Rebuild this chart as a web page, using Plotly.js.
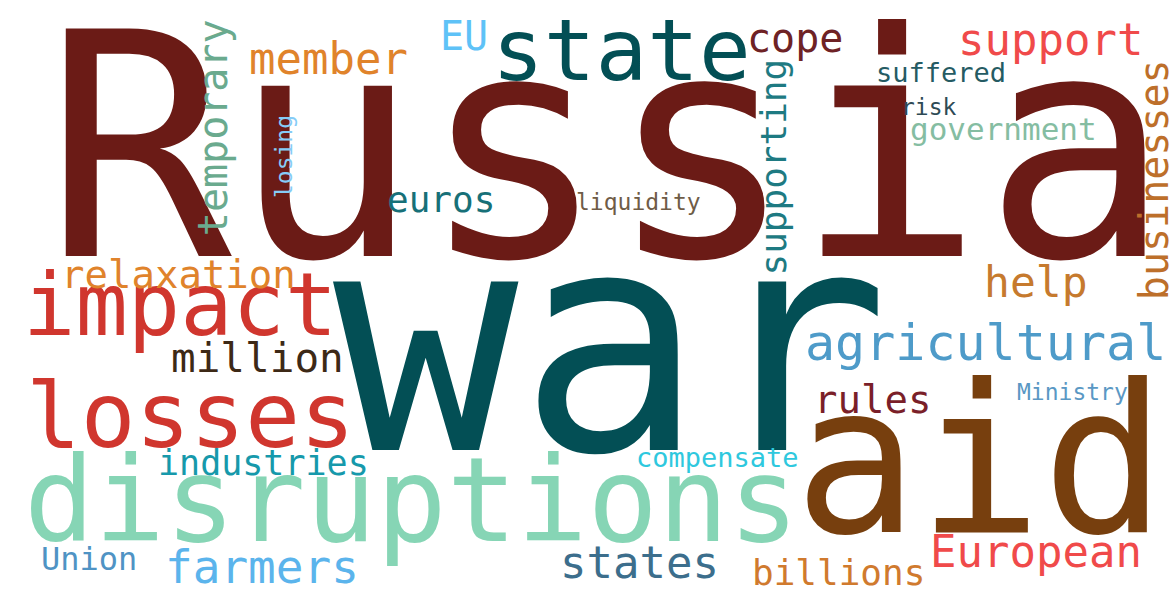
<!DOCTYPE html>
<html>
<head>
<meta charset="utf-8">
<script src="https://cdn.plot.ly/plotly-3.0.1.min.js"></script>
<style>html,body{margin:0;padding:0;background:#fff;}#chart{width:1171px;height:596px;}</style>
</head>
<body>
<div id="chart"></div>
<script>
// ---- data: the words of the cloud ----
const words = ["Russia","war","aid","disruptions","losses","impact","state","agricultural",
  "support","cope","EU","member","temporary","losing","relaxation","help","businesses",
  "supporting","suffered","risk","government","euros","liquidity","million","industries",
  "compensate","rules","Ministry","European","billions","states","farmers","Union"];

// ---- layout of each word (placement) ----
// centre along the reading direction (px), baseline (px), font size (px), rotation (deg), colour
const wordCenter   = [607,611,980,411,190,180,621,985,1050,795,464,328,128,157,178,1036,180,167,941,929,1003,441,638,257,263,717,872,1072,1036,838,639,262,89];
const wordBaseline = [256,450,532,541,447,335,80,360,55,52,50,74,227,292,288,297,1168,785,82,115,140,212,210,372,475,467,413,400,567,585,578,583,570];
const wordSize     = [312,308,206,117,91,87,86,50,44,40,40,44,40,23,39,43,40,36,27,23,31,36,23,41,35,27,39,23,44,36,44,46,32];
const wordAngle    = [0,0,0,0,0,0,0,0,0,0,0,0,-90,-90,0,0,-90,-90,0,0,0,0,0,0,0,0,0,0,0,0,0,0,0];
const wordColor    = ["#6B1B16","#034F55","#773F0E","#86D5B5","#D0362E","#D0362E","#034F55","#4E9BC9",
  "#F04A4A","#6E2225","#5EC2F7","#E0832B","#6AAA8E","#86CCF7","#E0832B","#C67A2E","#BD6F2A",
  "#1E7A82","#255B63","#2E4A55","#85BDA2","#177078","#6F5C47","#3D2916","#1699AB",
  "#2EC8DE","#7A1F29","#5A98C4","#F04A4A","#D07A2E","#3C6E8C","#5BB4EC","#4F93C4"];

const FONT = "DejaVu Sans Mono, Liberation Mono, monospace";
const MID = 0.346; // distance from baseline to middle of text box, in em

const annotations = words.map((w, i) => {
  const fs = wordSize[i];
  const vertical = wordAngle[i] !== 0;
  return {
    text: w,
    xref: "x", yref: "y",
    x: vertical ? wordBaseline[i] - MID * fs : wordCenter[i],
    y: vertical ? wordCenter[i] : wordBaseline[i] - MID * fs,
    xanchor: "center", yanchor: "middle",
    showarrow: false,
    textangle: wordAngle[i],
    borderpad: 0, borderwidth: 0,
    font: {family: FONT, size: fs, color: wordColor[i]}
  };
});

const layout = {
  width: 1171, height: 596,
  margin: {l: 0, r: 0, t: 0, b: 0, pad: 0},
  paper_bgcolor: "#ffffff", plot_bgcolor: "#ffffff",
  xaxis: {range: [0, 1171], visible: false, fixedrange: true},
  yaxis: {range: [596, 0], visible: false, fixedrange: true},
  showlegend: false,
  annotations: annotations
};

Plotly.newPlot("chart", [{x: [], y: [], type: "scatter", mode: "markers", hoverinfo: "skip"}], layout, {displayModeBar: false, staticPlot: true});
</script>
</body>
</html>
